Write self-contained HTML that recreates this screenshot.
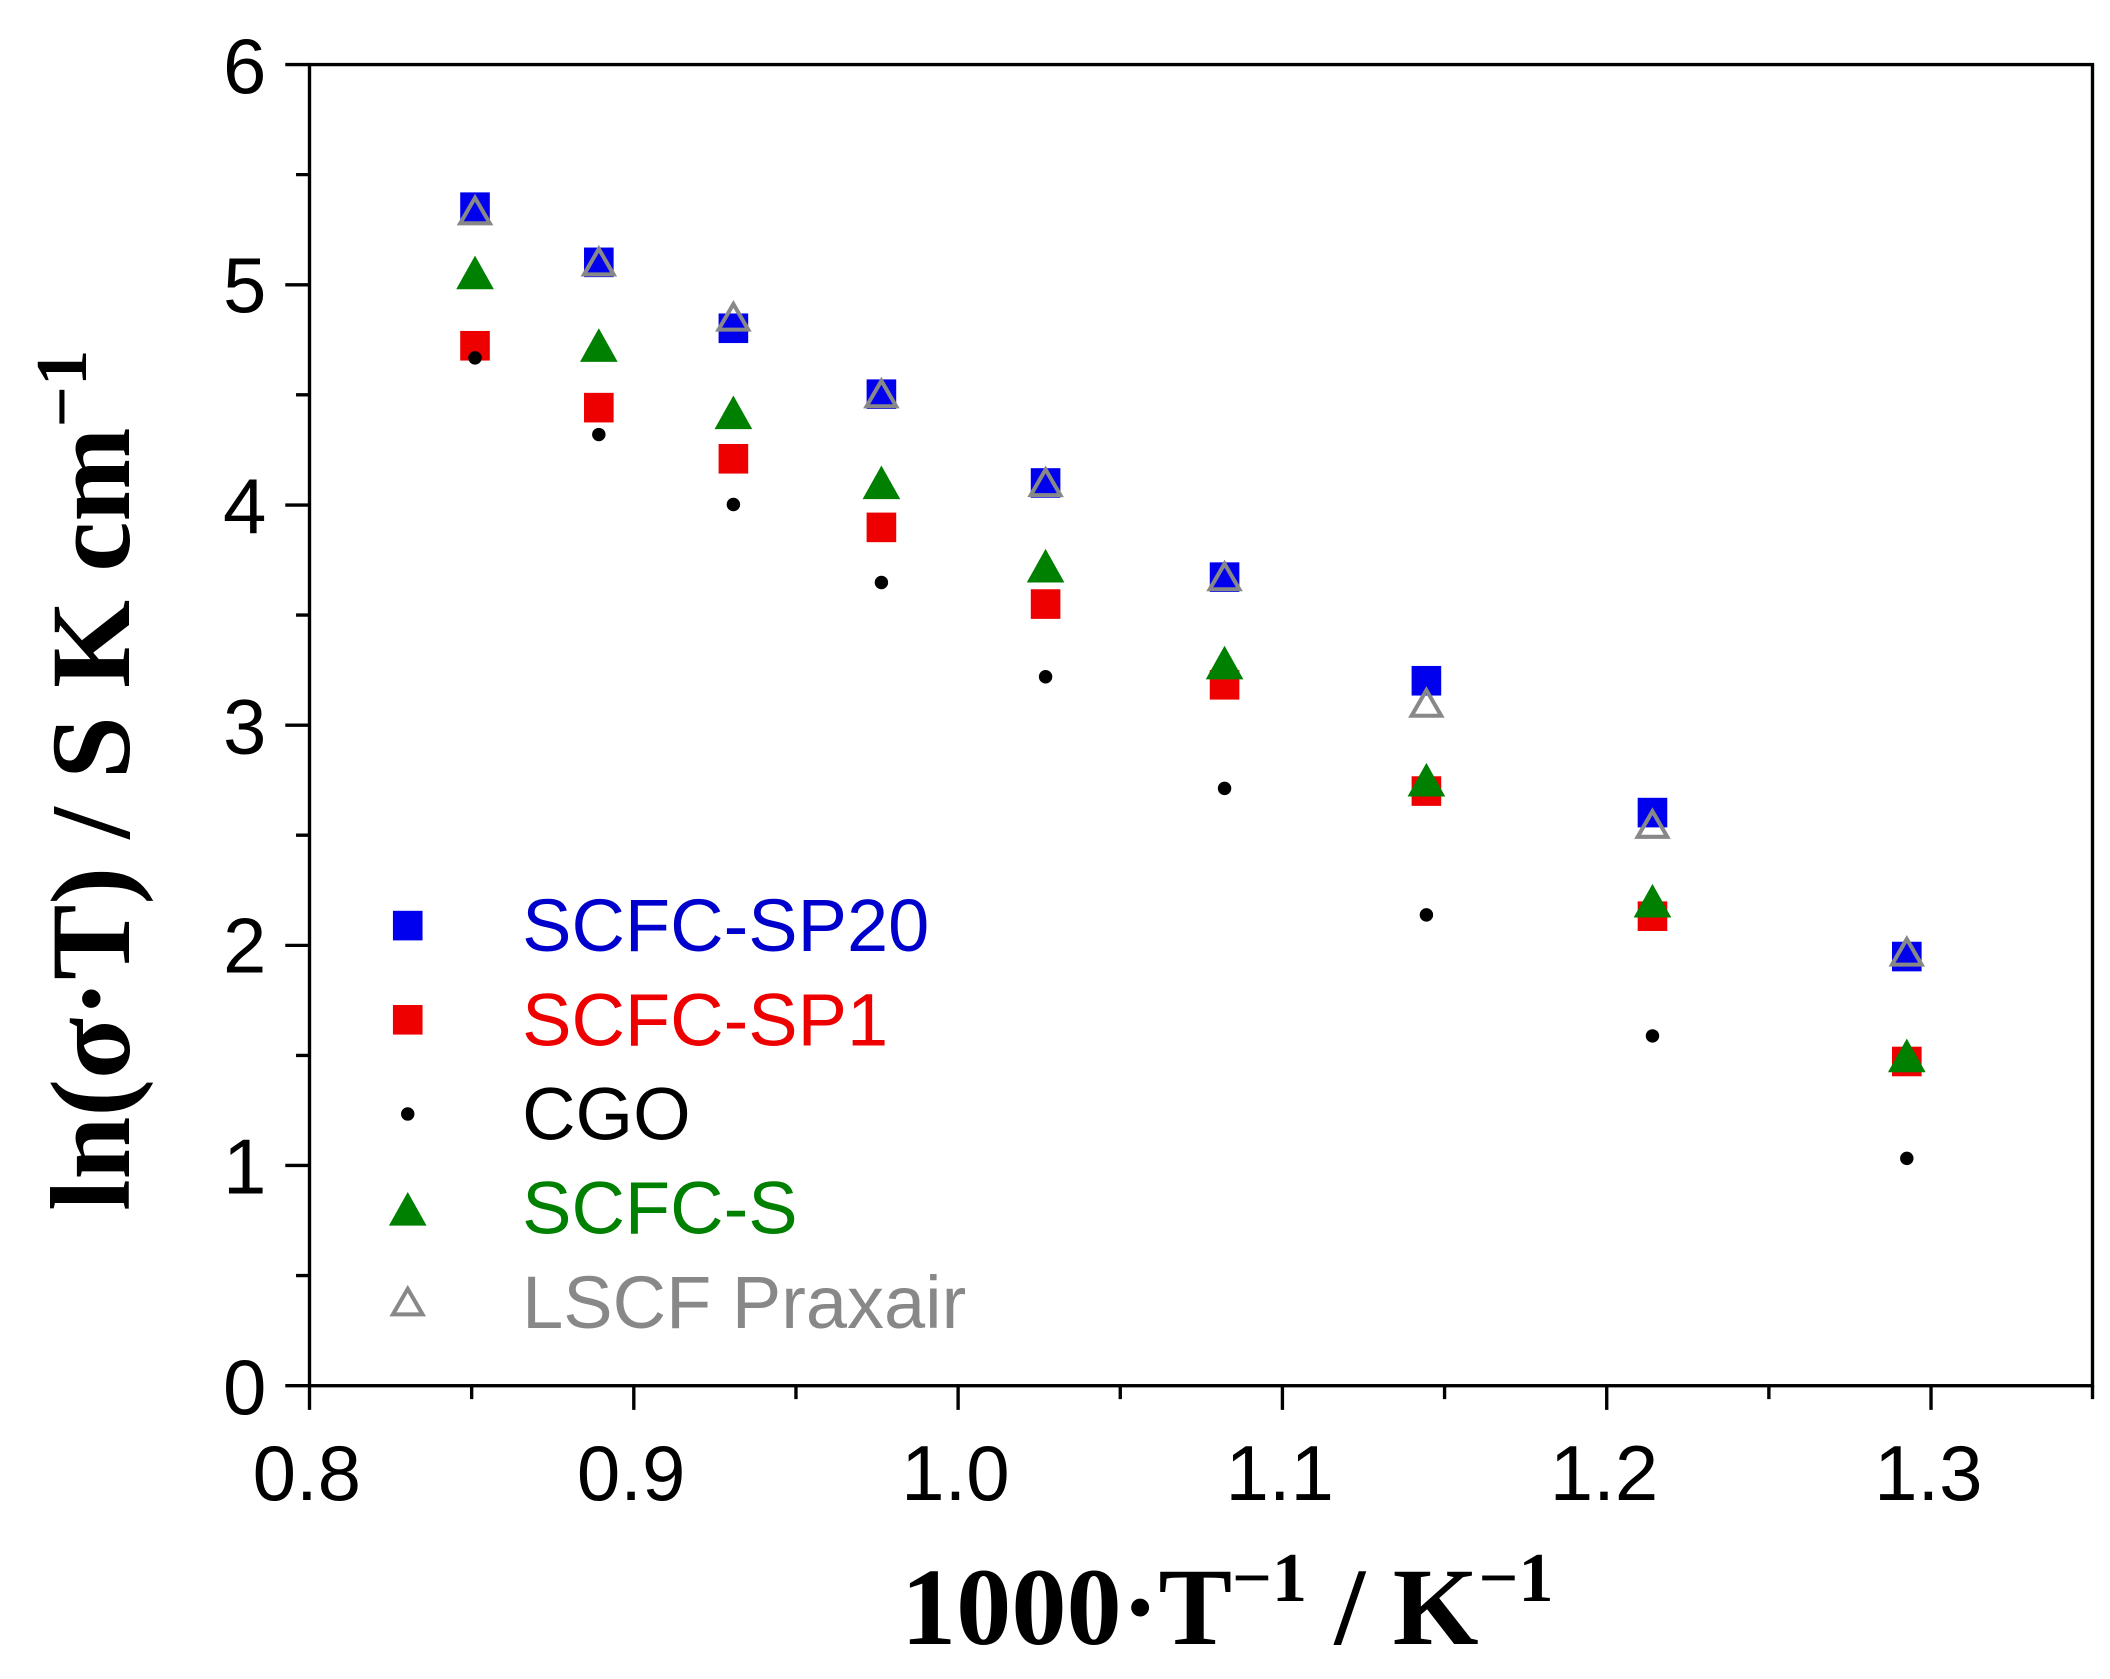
<!DOCTYPE html>
<html><head><meta charset="utf-8"><style>html,body{margin:0;padding:0;background:#fff}svg{display:block}</style></head>
<body>
<svg width="2110" height="1679" viewBox="0 0 1568 1248" preserveAspectRatio="none" xmlns="http://www.w3.org/2000/svg">
<rect width="1568" height="1248" fill="#fff"/>
<g stroke="#000" stroke-width="2.5" fill="none">
<rect x="230" y="48" width="1325" height="982"/>
<path d="M212 48H230M212 211.7H230M212 375.4H230M212 539H230M212 702.7H230M212 866.3H230M212 1030H230"/>
<path d="M220 129.8H230M220 293.5H230M220 457.2H230M220 620.8H230M220 784.5H230M220 948.1H230"/>
<path d="M230 1030V1048M471 1030V1048M712 1030V1048M953 1030V1048M1194 1030V1048M1435 1030V1048"/>
<path d="M350.5 1030V1040M591.5 1030V1040M832.5 1030V1040M1073.5 1030V1040M1314.5 1030V1040M1555 1030V1040"/>
</g>
<g font-family="Liberation Sans, Arial, sans-serif" font-size="58" fill="#000" text-anchor="end">
<text x="198" y="69">6</text><text x="198" y="232">5</text><text x="198" y="396">4</text><text x="198" y="560">3</text><text x="198" y="723">2</text><text x="198" y="887">1</text><text x="198" y="1051">0</text>
</g>
<g font-family="Liberation Sans, Arial, sans-serif" font-size="58" fill="#000" text-anchor="middle">
<text x="228" y="1115">0.8</text><text x="469" y="1115">0.9</text><text x="710" y="1115">1.0</text><text x="951" y="1115">1.1</text><text x="1192" y="1115">1.2</text><text x="1433" y="1115">1.3</text>
</g>
<text x="912" y="1222" font-family="Liberation Serif, serif" font-weight="bold" font-size="82" text-anchor="middle">1000·T<tspan dy="-32" font-size="52">−1</tspan><tspan dy="32"> / K</tspan><tspan dy="-32" font-size="52">−1</tspan></text>
<text transform="translate(96,580) rotate(-90)" font-family="Liberation Serif, serif" font-weight="bold" font-size="84" text-anchor="middle">ln(σ·T) / S K cm<tspan dy="-32" font-size="54">−1</tspan></text>

<g fill="#0000ee">
<rect x="342" y="143" width="22" height="22"/><rect x="434" y="184" width="22" height="22"/><rect x="534" y="233" width="22" height="22"/><rect x="644" y="282" width="22" height="22"/><rect x="766" y="348" width="22" height="22"/><rect x="899" y="418" width="22" height="22"/><rect x="1049" y="495" width="22" height="22"/><rect x="1217" y="593" width="22" height="22"/><rect x="1406" y="700" width="22" height="22"/>
</g>
<g fill="#ee0000">
<rect x="342" y="246" width="22" height="22"/><rect x="434" y="292" width="22" height="22"/><rect x="534" y="330" width="22" height="22"/><rect x="644" y="381" width="22" height="22"/><rect x="766" y="438" width="22" height="22"/><rect x="899" y="498" width="22" height="22"/><rect x="1049" y="577" width="22" height="22"/><rect x="1217" y="670" width="22" height="22"/><rect x="1406" y="778" width="22" height="22"/>
</g>
<g fill="#000">
<circle cx="353" cy="266" r="5"/><circle cx="445" cy="323" r="5"/><circle cx="545" cy="375" r="5"/><circle cx="655" cy="433" r="5"/><circle cx="777" cy="503" r="5"/><circle cx="910" cy="586" r="5"/><circle cx="1060" cy="680" r="5"/><circle cx="1228" cy="770" r="5"/><circle cx="1417" cy="861" r="5"/>
</g>
<g fill="#008000">
<path d="M353 190l14 25h-28z"/><path d="M445 244l14 25h-28z"/><path d="M545 294l14 25h-28z"/><path d="M655 346l14 25h-28z"/><path d="M777 408l14 25h-28z"/><path d="M910 480l14 25h-28z"/><path d="M1060 567l14 25h-28z"/><path d="M1228 657l14 25h-28z"/><path d="M1417 772l14 25h-28z"/>
</g>
<g fill="none" stroke="#888" stroke-width="3">
<path d="M353 147l11 19h-22z"/><path d="M445 185l11 19h-22z"/><path d="M545 226l11 19h-22z"/><path d="M655 283l11 19h-22z"/><path d="M777 349l11 19h-22z"/><path d="M910 419l11 19h-22z"/><path d="M1060 513l11 19h-22z"/><path d="M1228 603l11 19h-22z"/><path d="M1417 698l11 19h-22z"/>
</g>
<rect x="292" y="677" width="22" height="22" fill="#0000ee"/>
<rect x="292" y="747" width="22" height="22" fill="#ee0000"/>
<circle cx="303" cy="828" r="5" fill="#000"/>
<path d="M303 886l14 25h-28z" fill="#008000"/>
<path d="M303 958l11 19h-22z" fill="none" stroke="#888" stroke-width="3"/>
<g font-family="Liberation Sans, Arial, sans-serif" font-size="55">
<text x="388" y="707" fill="#0000cc">SCFC-SP20</text>
<text x="388" y="777" fill="#ee0000">SCFC-SP1</text>
<text x="388" y="847" fill="#000">CGO</text>
<text x="388" y="917" fill="#008000">SCFC-S</text>
<text x="388" y="987" fill="#888">LSCF Praxair</text>
</g>
</svg>
</body></html>
